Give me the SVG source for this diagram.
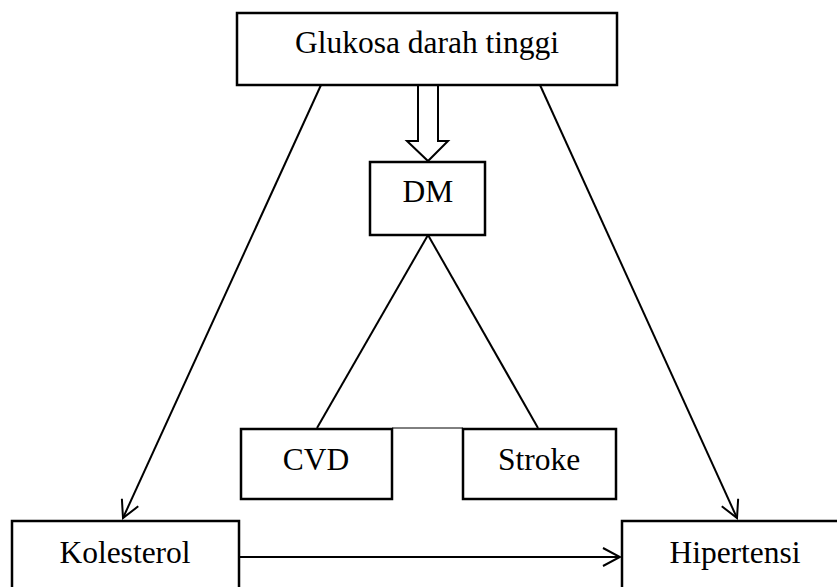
<svg xmlns="http://www.w3.org/2000/svg" width="837" height="587" viewBox="0 0 837 587">
<style>
.box{fill:#fff;stroke:#000;stroke-width:2.5}
.t{font-family:"Liberation Serif","Times New Roman",serif;font-size:31.5px;fill:#000;text-anchor:middle}
.c{fill:none;stroke:#000;stroke-width:2}
</style>
<defs>
<marker id="ah" viewBox="0 0 20 20" refX="18" refY="10" markerWidth="20" markerHeight="20" markerUnits="userSpaceOnUse" orient="auto">
<path d="M1,1 L18,10 L1,19" fill="none" stroke="#000" stroke-width="2"/>
</marker>
</defs>
<rect width="837" height="587" fill="#fff"/>
<g id="connectors">
<line class="c" x1="321" y1="85" x2="123" y2="518" marker-end="url(#ah)"/>
<line class="c" x1="540" y1="85" x2="737" y2="518" marker-end="url(#ah)"/>
<line class="c" x1="239" y1="557" x2="620" y2="557" marker-end="url(#ah)"/>
<line class="c" x1="428" y1="235" x2="317" y2="428"/>
<line class="c" x1="428" y1="235" x2="538" y2="428"/>
<line x1="392" y1="428" x2="463" y2="428" stroke="#000" stroke-width="1"/>
<polygon points="418,85 418,141 407,141 428,161 448,141 438,141 438,85" fill="#fff" stroke="#000" stroke-width="2"/>
</g>
<g id="glukosa">
<rect class="box" x="237" y="13" width="380" height="72"/>
<text class="t" x="427" y="53">Glukosa darah tinggi</text>
</g>
<g id="dm">
<rect class="box" x="370" y="162" width="115" height="73"/>
<text class="t" x="428" y="202">DM</text>
</g>
<g id="cvd">
<rect class="box" x="241" y="429" width="151" height="70"/>
<text class="t" x="316" y="470">CVD</text>
</g>
<g id="stroke">
<rect class="box" x="463" y="429" width="153" height="70"/>
<text class="t" x="539" y="470">Stroke</text>
</g>
<g id="kolesterol">
<rect class="box" x="12" y="521" width="227" height="80"/>
<text class="t" x="125" y="563">Kolesterol</text>
</g>
<g id="hipertensi">
<rect class="box" x="622" y="521" width="226" height="80"/>
<text class="t" x="735" y="563">Hipertensi</text>
</g>
</svg>
